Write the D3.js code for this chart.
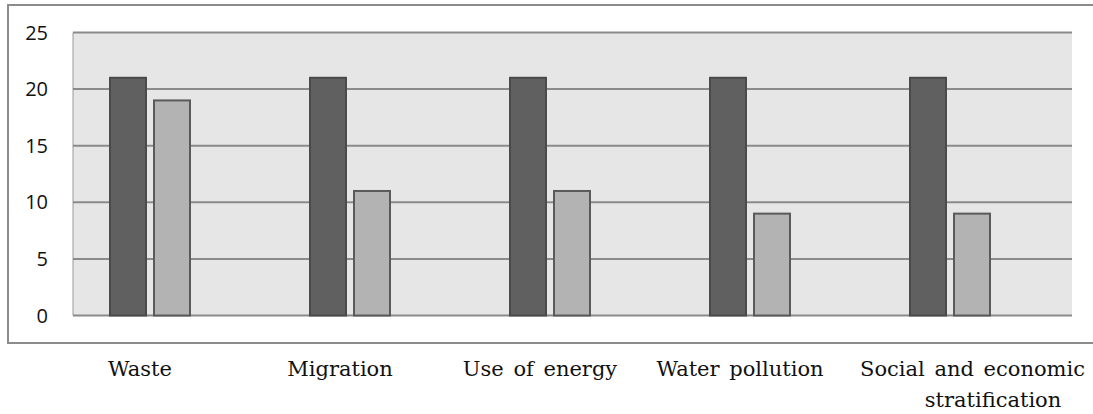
<!DOCTYPE html>
<html>
<head>
<meta charset="utf-8">
<script src="https://cdn.jsdelivr.net/npm/d3@7"></script>
<style>
  body { margin: 0; background: #fff; }
  svg { display: block; }
</style>
</head>
<body>
<div id="container"></div>
<script>
// Chart dimensions
const width = 1093;
const height = 414;

// Data
const categories = ["Waste", "Migration", "Use of energy", "Water pollution", "Social and economic stratification"];
const seriesA = [21, 21, 21, 21, 21];
const seriesB = [19, 11, 11, 9, 9];
const yTicks = [0, 5, 10, 15, 20, 25];

const plot = { left: 73, right: 1072, top: 32.5, bottom: 315.5 };

const svg = d3.select("#container").append("svg")
    .attr("width", width)
    .attr("height", height);

// outer frame
svg.append("rect")
    .attr("x", 8).attr("y", 5)
    .attr("width", width + 10).attr("height", 338)
    .attr("fill", "#fff")
    .attr("stroke", "#8c8c8c")
    .attr("stroke-width", 2);

const x = d3.scaleBand()
    .domain(categories)
    .range([plot.left - 1, plot.left - 1 + 1000]);

// bars sit in the left part of each category slot
const xInner = d3.scaleBand()
    .domain([0, 1])
    .range([38, 118])
    .paddingInner(8 / 44);

const y = d3.scaleLinear()
    .domain([0, 25])
    .range([plot.bottom, plot.top]);

// plot background
svg.append("rect")
    .attr("x", plot.left)
    .attr("y", plot.top)
    .attr("width", plot.right - plot.left)
    .attr("height", plot.bottom - plot.top)
    .attr("fill", "#e6e6e6");

svg.append("line")
    .attr("x1", plot.left).attr("x2", plot.left)
    .attr("y1", plot.top).attr("y2", plot.bottom)
    .attr("stroke", "#9a9a9a")
    .attr("stroke-width", 1);

// gridlines
svg.append("g")
    .selectAll("line")
    .data(yTicks)
    .join("line")
    .attr("x1", plot.left)
    .attr("x2", plot.right)
    .attr("y1", d => y(d))
    .attr("y2", d => y(d))
    .attr("stroke", "#8a8a8a")
    .attr("stroke-width", 2);

// y labels
svg.append("g")
    .selectAll("text")
    .data(yTicks)
    .join("text")
    .attr("x", 48)
    .attr("y", d => y(d))
    .attr("dy", "0.35em")
    .attr("text-anchor", "end")
    .attr("font-family", "Open Sans, sans-serif")
    .attr("font-size", 20)
    .attr("fill", "#111")
    .text(d => d);

// bars
const rows = categories.map((c, i) => ({ c, vals: [seriesA[i], seriesB[i]] }));
const fills = ["#606060", "#b3b3b3"];
const strokes = ["#4a4a4a", "#5a5a5a"];

svg.append("g")
    .selectAll("g")
    .data(rows)
    .join("g")
    .attr("transform", d => `translate(${x(d.c)},0)`)
    .selectAll("rect")
    .data(d => d.vals.map((v, k) => ({ v, k })))
    .join("rect")
    .attr("x", d => xInner(d.k))
    .attr("y", d => y(d.v))
    .attr("width", xInner.bandwidth())
    .attr("height", d => y(0) - y(d.v))
    .attr("fill", d => fills[d.k])
    .attr("stroke", d => strokes[d.k])
    .attr("stroke-width", 2);

// category labels (long one wraps onto two lines, first line pushed to the right edge)
const labelG = svg.append("g")
    .attr("font-family", "DejaVu Serif, serif")
    .attr("font-size", 21)
    .attr("word-spacing", 3)
    .attr("fill", "#111");

categories.forEach(c => {
    const cx = x(c) + 68;
    const words = c.split(" ");
    const lines = words.length > 3 ? [words.slice(0, 3).join(" "), words.slice(3).join(" ")] : [c];
    lines.forEach((line, li) => {
        const t = labelG.append("text")
            .attr("x", cx)
            .attr("y", 369 + li * 31)
            .attr("dy", "0.35em")
            .attr("text-anchor", "middle")
            .text(line);
        if (lines.length > 1) {
            if (li === 0) t.attr("x", 1085).attr("text-anchor", "end");
            else t.attr("x", 993);
        }
    });
});
</script>
</body>
</html>
